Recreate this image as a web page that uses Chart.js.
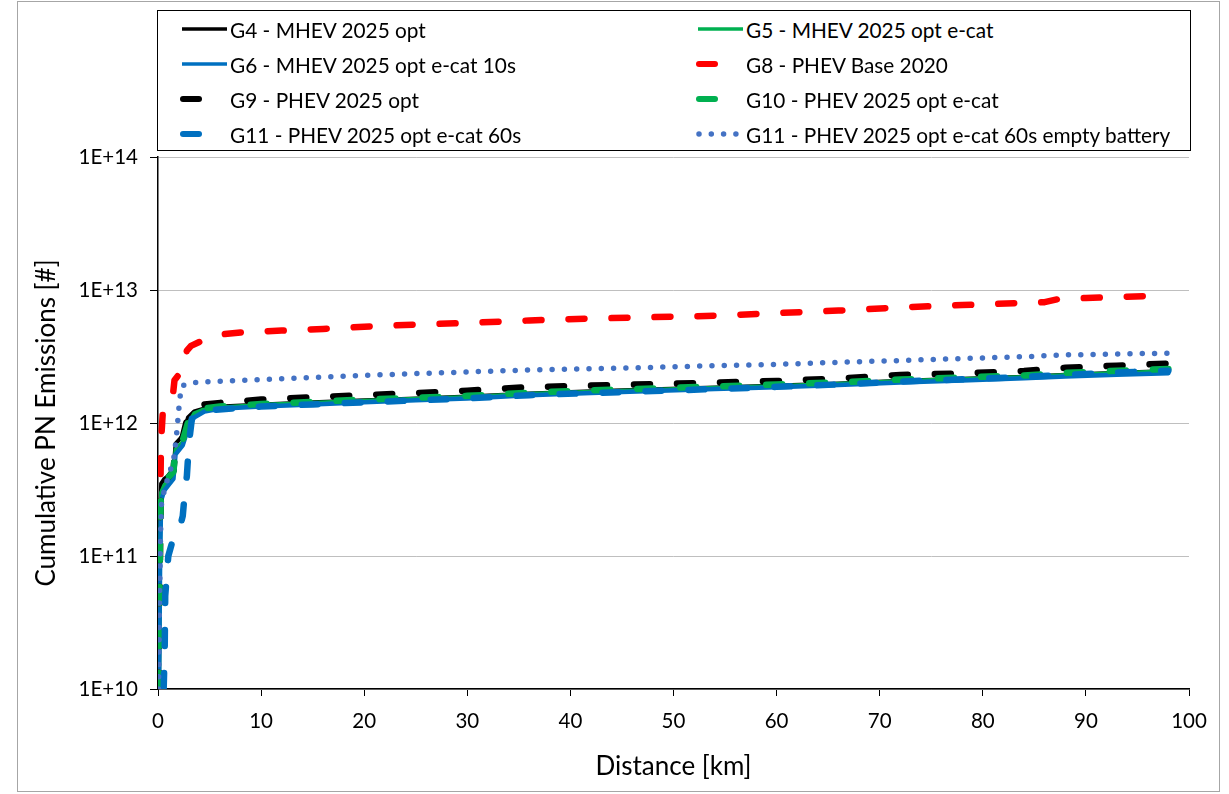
<!DOCTYPE html>
<html>
<head>
<meta charset="utf-8">
<script src="https://cdn.jsdelivr.net/npm/chart.js@4.4.1/dist/chart.umd.min.js"></script>
<style>
  html, body { margin: 0; padding: 0; background: #fff; }
  #wrap { position: relative; width: 1229px; height: 794px; }
  #frame { position: absolute; left: 17px; top: 1px; width: 1203px; height: 791px; border: 1px solid #a6a6a6; box-sizing: border-box; }
  #cv { position: absolute; left: 0; top: 0; }
  #legend { position: absolute; left: 157px; top: 10px; width: 1034px; height: 141px; border: 1.5px solid #000; box-sizing: border-box; background: #fff; font-family: Lato, "Open Sans", sans-serif; font-size: 20.8px; color: #000; }
  .item { position: absolute; height: 30px; display: flex; align-items: center; white-space: nowrap; }
  .item canvas { display: block; }
  .item span { margin-left: 2px; }
</style>
</head>
<body>
<div id="wrap">
  <div id="frame"></div>
  <canvas id="cv" width="1229" height="794"></canvas>
  <div id="legend"></div>
</div>
<script>
// Cumulative particle number emissions against distance driven
const seriesNames = [
  'G4 - MHEV 2025 opt',
  'G5 - MHEV 2025 opt e-cat',
  'G6 - MHEV 2025 opt e-cat 10s',
  'G8 - PHEV Base 2020',
  'G9 - PHEV 2025 opt',
  'G10 - PHEV 2025 opt e-cat',
  'G11 - PHEV 2025 opt e-cat 60s',
  'G11 - PHEV 2025 opt e-cat 60s empty battery'
];

// distance grid shared by the MHEV runs and G10 [km]
const mhevKm = [0.1, 0.2, 0.3, 0.6, 1.0, 1.5, 1.7, 2.4, 2.9, 3.5, 4.5, 6, 10, 15, 20, 25, 30, 36, 42, 48, 54, 60, 66, 72, 78, 84, 88, 93, 98];
const g4Pn  = [1e10, 2.0e11, 3.5e11, 3.8e11, 4.0e11, 4.4e11, 7.0e11, 8.0e11, 1.1e12, 1.22e12, 1.29e12, 1.33e12, 1.38e12, 1.43e12, 1.48e12, 1.53e12, 1.58e12, 1.67e12, 1.73e12, 1.79e12, 1.85e12, 1.91e12, 1.98e12, 2.08e12, 2.15e12, 2.23e12, 2.31e12, 2.39e12, 2.46e12];
const g5Pn  = [1e10, 1.2e11, 3.0e11, 3.4e11, 3.7e11, 4.1e11, 6.3e11, 7.2e11, 9.8e11, 1.18e12, 1.27e12, 1.31e12, 1.37e12, 1.42e12, 1.47e12, 1.52e12, 1.57e12, 1.66e12, 1.72e12, 1.78e12, 1.84e12, 1.9e12, 1.97e12, 2.07e12, 2.14e12, 2.22e12, 2.3e12, 2.38e12, 2.45e12];
const g6Pn  = [1e10, 8e10, 2.6e11, 3.1e11, 3.4e11, 3.8e11, 5.8e11, 6.8e11, 9.0e11, 1.1e12, 1.22e12, 1.28e12, 1.33e12, 1.38e12, 1.43e12, 1.48e12, 1.53e12, 1.62e12, 1.68e12, 1.74e12, 1.8e12, 1.86e12, 1.93e12, 2.02e12, 2.09e12, 2.17e12, 2.24e12, 2.31e12, 2.37e12];
const g10Pn = [1e10, 1.5e11, 3.2e11, 3.6e11, 3.9e11, 4.3e11, 6.6e11, 7.4e11, 1.0e12, 1.2e12, 1.29e12, 1.33e12, 1.39e12, 1.44e12, 1.5e12, 1.55e12, 1.6e12, 1.69e12, 1.76e12, 1.82e12, 1.88e12, 1.95e12, 2.02e12, 2.12e12, 2.2e12, 2.28e12, 2.38e12, 2.47e12, 2.55e12];

const g8Km = [0.1, 0.15, 0.2, 0.28, 0.35, 0.45, 0.9, 1.4, 1.6, 2.0, 2.5, 2.8, 3.2, 4.4, 5.8, 8, 12, 16, 20, 25, 30, 36, 42, 48, 54, 60, 66, 72, 78, 84, 86, 87.5, 90, 94, 98];
const g8Pn = [1e10, 4e10, 2.0e11, 6.0e11, 8.5e11, 1.15e12, 1.35e12, 1.5e12, 2.1e12, 2.3e12, 2.7e12, 3.5e12, 3.8e12, 4.2e12, 4.6e12, 4.8e12, 4.95e12, 5.1e12, 5.3e12, 5.5e12, 5.65e12, 5.9e12, 6.1e12, 6.25e12, 6.4e12, 6.7e12, 7.0e12, 7.4e12, 7.7e12, 8.0e12, 8.1e12, 8.6e12, 8.7e12, 8.9e12, 9.1e12];

const g9Km = [0.1, 0.2, 0.3, 0.6, 1.0, 1.5, 1.7, 2.4, 2.8, 3.4, 4.5, 7, 10, 15, 20, 25, 30, 36, 42, 48, 54, 60, 66, 72, 78, 84, 88, 93, 98];
const g9Pn = [1e10, 1.5e11, 3.3e11, 3.6e11, 3.9e11, 4.4e11, 6.8e11, 7.8e11, 1.05e12, 1.25e12, 1.38e12, 1.44e12, 1.5e12, 1.56e12, 1.62e12, 1.68e12, 1.75e12, 1.86e12, 1.91e12, 1.96e12, 2.01e12, 2.07e12, 2.16e12, 2.3e12, 2.36e12, 2.46e12, 2.6e12, 2.7e12, 2.8e12];

const g11Km = [0.55, 0.65, 0.7, 1.0, 1.35, 1.9, 2.4, 2.6, 2.8, 3.0, 3.3, 4.1, 5, 10, 15, 20, 25, 30, 36, 42, 48, 54, 60, 66, 72, 78, 84, 88, 93, 98];
const g11Pn = [1e10, 2e10, 5e10, 1.0e11, 1.25e11, 1.4e11, 2.0e11, 3.0e11, 4.0e11, 7e11, 1.1e12, 1.2e12, 1.25e12, 1.33e12, 1.38e12, 1.43e12, 1.48e12, 1.53e12, 1.62e12, 1.68e12, 1.74e12, 1.8e12, 1.87e12, 1.95e12, 2.05e12, 2.13e12, 2.22e12, 2.3e12, 2.4e12, 2.47e12];

const g11eKm = [0.05, 0.15, 0.25, 0.35, 1.0, 1.5, 1.75, 1.9, 2.1, 2.3, 3.1, 5, 10, 15, 20, 25, 30, 36, 42, 48, 54, 60, 66, 72, 78, 84, 88, 93, 98];
const g11ePn = [1e10, 5e10, 1.5e11, 2.6e11, 4.0e11, 5.2e11, 7.4e11, 1.0e12, 1.5e12, 1.9e12, 2.0e12, 2.05e12, 2.12e12, 2.2e12, 2.28e12, 2.35e12, 2.42e12, 2.5e12, 2.56e12, 2.62e12, 2.7e12, 2.76e12, 2.86e12, 2.95e12, 3.05e12, 3.15e12, 3.25e12, 3.3e12, 3.35e12];

const xTicks = [0, 10, 20, 30, 40, 50, 60, 70, 80, 90, 100];
const yTicks = [1e10, 1e11, 1e12, 1e13, 1e14];

const pairs = (xs, ys) => xs.map((x, i) => ({ x: x, y: ys[i] }));

const SOLID = [];
const DASH = [16, 27];
const DOT = [0, 12.3];

const styles = [
  { color: '#000000', width: 4,   dash: SOLID },
  { color: '#00B050', width: 4,   dash: SOLID },
  { color: '#0070C0', width: 4.5, dash: SOLID },
  { color: '#FF0000', width: 6.5, dash: DASH },
  { color: '#000000', width: 6.5, dash: DASH },
  { color: '#00B050', width: 6.5, dash: DASH },
  { color: '#0070C0', width: 6.5, dash: DASH },
  { color: '#4472C4', width: 5.5, dash: DOT }
];

const seriesData = [
  pairs(mhevKm, g4Pn),
  pairs(mhevKm, g5Pn),
  pairs(mhevKm, g6Pn),
  pairs(g8Km, g8Pn),
  pairs(g9Km, g9Pn),
  pairs(mhevKm, g10Pn),
  pairs(g11Km, g11Pn),
  pairs(g11eKm, g11ePn)
];

const datasets = seriesNames.map((name, i) => ({
  label: name,
  data: seriesData[i],
  borderColor: styles[i].color,
  backgroundColor: styles[i].color,
  borderWidth: styles[i].width,
  borderDash: styles[i].dash,
  borderCapStyle: 'round',
  borderJoinStyle: 'round',
  pointRadius: 0,
  tension: 0,
  fill: false,
  // later series sit on top of earlier ones
  order: seriesNames.length - i
}));

const FONT = 'Lato, "Open Sans", sans-serif';

new Chart(document.getElementById('cv'), {
  type: 'line',
  data: { datasets: datasets },
  options: {
    responsive: false,
    animation: false,
    layout: { padding: { left: 17, top: 157, right: 40, bottom: 0 } },
    plugins: { legend: { display: false }, tooltip: { enabled: false } },
    scales: {
      x: {
        type: 'linear',
        min: 0, max: 100,
        afterBuildTicks: s => { s.ticks = xTicks.map(v => ({ value: v })); },
        afterFit: s => { s.height = 105; },
        ticks: { color: '#000', font: { family: FONT, size: 20.5 }, padding: 13, maxRotation: 0 },
        grid: { drawOnChartArea: false, drawTicks: true, tickLength: 7, tickColor: '#000', tickWidth: 1 },
        border: { display: true, color: '#000', width: 1.5 },
        title: { display: true, text: 'Distance [km]', color: '#000', font: { family: FONT, size: 26 }, padding: { top: 0, bottom: 12 } }
      },
      y: {
        type: 'logarithmic',
        min: 1e10, max: 1e14,
        afterBuildTicks: s => { s.ticks = yTicks.map(v => ({ value: v })); },
        afterFit: s => { s.width = 141; },
        ticks: {
          color: '#000', font: { family: FONT, size: 20.5 }, padding: 12,
          callback: v => '1E+' + Math.round(Math.log10(v))
        },
        grid: { color: '#BFBFBF', lineWidth: 1, drawTicks: true, tickLength: 8, tickColor: '#000', tickWidth: 1 },
        border: { display: true, color: '#000', width: 1.5 },
        title: { display: true, text: 'Cumulative PN Emissions [#]', color: '#000', font: { family: FONT, size: 26 }, padding: { top: 14, bottom: 0 } }
      }
    }
  }
});

// two-column legend box, samples drawn with each series' own stroke style
const legendEl = document.getElementById('legend');
const colX = [22, 538];      // sample start inside the box
const rowY = [3, 38, 73, 108];
const slot = [0, 2, 4, 6, 1, 3, 5, 7]; // left column: G4, G6, G9, G11; right column: G5, G8, G10, G11 empty
slot.forEach((dsIndex, k) => {
  const col = k < 4 ? 0 : 1;
  const row = k % 4;
  const st = styles[dsIndex];
  const item = document.createElement('div');
  item.className = 'item';
  item.style.left = colX[col] + 'px';
  item.style.top = rowY[row] + 'px';
  const c = document.createElement('canvas');
  c.width = 48; c.height = 30;
  const g = c.getContext('2d');
  g.strokeStyle = st.color;
  g.lineWidth = st.dash === SOLID ? 3.5 : Math.min(st.width, 6);
  g.lineCap = st.dash === SOLID ? 'butt' : 'round';
  g.setLineDash(st.dash);
  g.beginPath();
  const x0 = st.dash === SOLID ? 2 : 3;
  g.moveTo(x0, 15);
  g.lineTo(st.dash === DASH ? 25 : 47, 15);
  g.stroke();
  item.appendChild(c);
  const t = document.createElement('span');
  t.textContent = seriesNames[dsIndex];
  item.appendChild(t);
  legendEl.appendChild(item);
});
</script>
</body>
</html>
